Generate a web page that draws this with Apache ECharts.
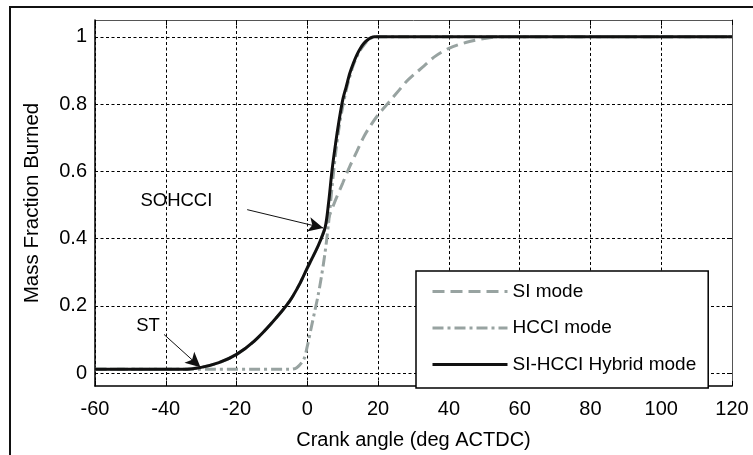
<!DOCTYPE html>
<html>
<head>
<meta charset="utf-8">
<script src="https://cdn.jsdelivr.net/npm/echarts@6/dist/echarts.min.js"></script>
<style>
html,body{margin:0;padding:0;background:#fff;}
#c{width:753px;height:455px;}
</style>
</head>
<body>
<div id="c"></div>
<script>
// Data
const hybridX = [-60,-35,-30,-25,-20,-15,-10,-5,-2,0,3,5,6,7,8,9,10,11,12,13,14,15,16,17,18,19,20,120];
const hybridY = [0,0,0.006,0.02,0.045,0.085,0.14,0.205,0.26,0.305,0.37,0.425,0.5,0.6,0.68,0.75,0.81,0.85,0.89,0.92,0.945,0.965,0.98,0.99,0.997,1,1,1];

const hcciX = [-60,-35,-5,-3,-1,0,1,2,3,4,5,6,7,8,9,10,11,12,13,14,15,16,17,18,19,20,120];
const hcciY = [0,0,0,0.005,0.03,0.07,0.12,0.17,0.22,0.28,0.35,0.44,0.55,0.65,0.73,0.79,0.84,0.88,0.915,0.94,0.96,0.975,0.987,0.995,0.999,1,1];

const siX = [-60,-35,-30,-25,-20,-15,-10,-5,-2,0,3,5,6,8,10,12,14,16,18,20,22,24,26,28,30,33,36,40,45,50,55,120];
const siY = [0,0,0.006,0.02,0.045,0.085,0.14,0.205,0.26,0.305,0.37,0.425,0.455,0.51,0.56,0.61,0.655,0.7,0.735,0.765,0.79,0.815,0.84,0.865,0.885,0.912,0.94,0.965,0.983,0.994,1,1];

const seriesNames = ['SI mode','HCCI mode','SI-HCCI Hybrid mode'];
const xTicks = {min: -60, max: 120, step: 20};
const yTicks = {min: 0, max: 1, step: 0.2};
const yRange = {min: -0.05, max: 1.05};

// annotations: [label, labelX, labelY, arrowStartX, arrowStartY, arrowEndX, arrowEndY]
const annotations = [
  ['SOHCCI', -37, 0.505, -17, 0.48, 4.5, 0.425],
  ['ST', -45, 0.13, -40.5, 0.105, -30.2, 0.006]
];

const zip = (xs, ys) => xs.map((x, i) => [x, ys[i]]);
const grey = '#98a3a1';
const font = 'Liberation Sans, Arial, Helvetica, sans-serif';

const chart = echarts.init(document.getElementById('c'), null, {renderer: 'canvas'});

// plot box geometry
const box = {left: 95, right: 21, top: 20, bottom: 65};
const plotH = 455 - box.top - box.bottom;
const pad = plotH * (yTicks.min - yRange.min) / (yRange.max - yRange.min);

const tick = {show: true, inside: true, length: 5, lineStyle: {color: '#000', width: 1}};
const dotted = {show: true, lineStyle: {color: '#000', width: 1, type: [3, 2.5]}};

chart.setOption({
  animation: false,
  backgroundColor: '#fff',
  grid: [
    {left: box.left, right: box.right, top: box.top, bottom: box.bottom},
    {left: box.left, right: box.right, top: box.top + pad, bottom: box.bottom + pad}
  ],
  xAxis: [{
    gridIndex: 0, type: 'value', min: xTicks.min, max: xTicks.max, interval: xTicks.step,
    axisLine: {show: true, onZero: false, lineStyle: {color: '#000', width: 1.5}},
    axisTick: tick,
    axisLabel: {color: '#000', fontSize: 20, fontFamily: font, margin: 13},
    splitLine: dotted,
    name: 'Crank angle (deg ACTDC)', nameLocation: 'middle', nameGap: 44,
    nameTextStyle: {color: '#000', fontSize: 20, fontFamily: font}
  }, {
    gridIndex: 0, type: 'value', min: xTicks.min, max: xTicks.max, interval: xTicks.step, position: 'top',
    axisLine: {show: true, onZero: false, lineStyle: {color: '#555', width: 1}},
    axisTick: tick, axisLabel: {show: false}, splitLine: {show: false}
  }, {
    gridIndex: 1, type: 'value', min: xTicks.min, max: xTicks.max, interval: xTicks.step, show: false
  }],
  yAxis: [{
    gridIndex: 0, type: 'value', min: yRange.min, max: yRange.max,
    axisLine: {show: true, onZero: false, lineStyle: {color: '#000', width: 1.5}},
    axisTick: {show: false}, axisLabel: {show: false}, splitLine: {show: false},
    name: 'Mass Fraction Burned', nameLocation: 'middle', nameGap: 52,
    nameTextStyle: {color: '#000', fontSize: 20.5, fontFamily: font}
  }, {
    gridIndex: 0, type: 'value', min: yRange.min, max: yRange.max, position: 'right',
    axisLine: {show: true, onZero: false, lineStyle: {color: '#555', width: 1}},
    axisTick: {show: false}, axisLabel: {show: false}, splitLine: {show: false}
  }, {
    gridIndex: 1, type: 'value', min: yTicks.min, max: yTicks.max, interval: yTicks.step, position: 'left',
    axisLine: {show: false},
    axisTick: tick,
    axisLabel: {color: '#000', fontSize: 20, fontFamily: font, margin: 8},
    splitLine: dotted
  }, {
    gridIndex: 1, type: 'value', min: yTicks.min, max: yTicks.max, interval: yTicks.step, position: 'right',
    axisLine: {show: false},
    axisTick: tick, axisLabel: {show: false}, splitLine: {show: false}
  }],
  legend: {
    left: 416, top: 271, orient: 'vertical',
    itemWidth: 75, itemHeight: 14, itemGap: 17.5,
    padding: [11, 12, 14, 15],
    borderColor: '#000', borderWidth: 1.5, backgroundColor: '#fff',
    itemStyle: {opacity: 0},
    lineStyle: {width: 3},
    textStyle: {color: '#000', fontSize: 19, fontFamily: font},
    data: seriesNames,
    selectedMode: false
  },
  series: [{
    name: seriesNames[0], type: 'line', xAxisIndex: 0, yAxisIndex: 0,
    data: zip(siX, siY), symbol: 'none', smooth: 0.3,
    lineStyle: {color: grey, width: 3, type: [12, 6]}, itemStyle: {color: grey}, z: 2
  }, {
    name: seriesNames[1], type: 'line', xAxisIndex: 0, yAxisIndex: 0,
    data: zip(hcciX, hcciY), symbol: 'none', smooth: 0.3,
    lineStyle: {color: grey, width: 3, type: [11, 4, 3, 4]}, itemStyle: {color: grey}, z: 3
  }, {
    name: seriesNames[2], type: 'line', xAxisIndex: 0, yAxisIndex: 0,
    data: zip(hybridX, hybridY), symbol: 'none', smooth: 0.3,
    lineStyle: {color: '#111', width: 3}, itemStyle: {color: '#111'}, z: 4,
    markLine: {
      silent: true, symbol: ['none', 'arrow'], symbolSize: [11, 15], precision: 4,
      lineStyle: {color: '#111', width: 1, type: 'solid'},
      label: {show: false},
      data: annotations.map(a => [{coord: [a[3], a[4]]}, {coord: [a[5], a[6]]}])
    },
    markPoint: {
      silent: true, symbol: 'circle', symbolSize: 0,
      label: {show: true, position: 'inside', color: '#000', fontSize: 18.5, fontFamily: font,
        formatter: p => p.name},
      data: annotations.map(a => ({name: a[0], coord: [a[1], a[2]]}))
    }
  }],
  graphic: [
    {type: 'line', shape: {x1: 10, y1: 7, x2: 760, y2: 7}, style: {stroke: '#111', lineWidth: 2}, silent: true},
    {type: 'line', shape: {x1: 10, y1: 6, x2: 10, y2: 460}, style: {stroke: '#111', lineWidth: 2}, silent: true}
  ]
});
</script>
</body>
</html>
